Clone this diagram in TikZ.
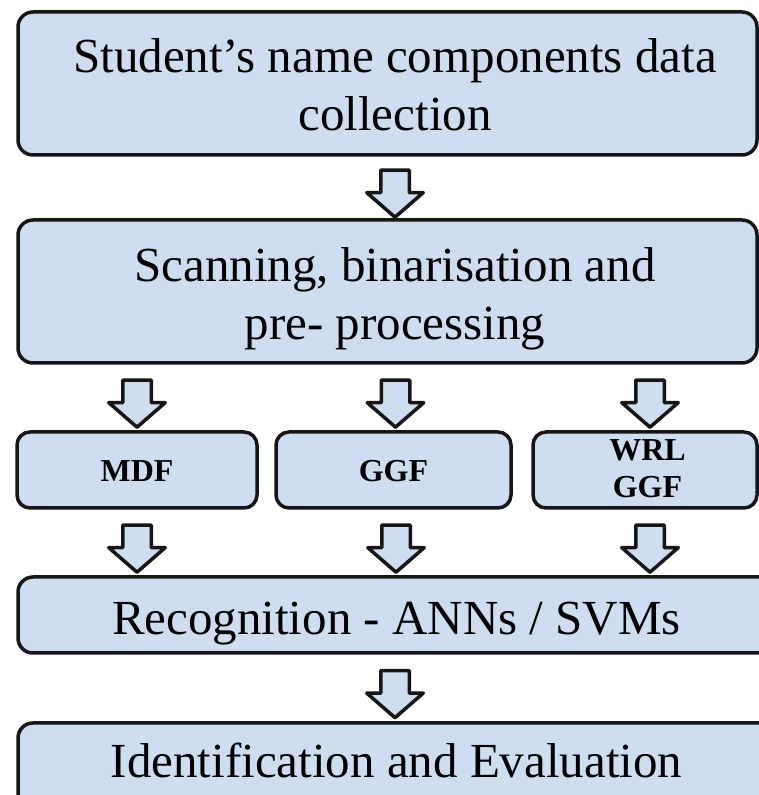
\documentclass[tikz,border=0pt]{standalone}
\usepackage{fontspec}
\setmainfont{Liberation Serif}
\usetikzlibrary{shapes.arrows,calc}
\definecolor{bfill}{RGB}{206,222,240}
\definecolor{lc}{RGB}{22,22,22}
\newcommand{\padl}{\hspace*{15pt}}
\tikzset{
  box/.style={draw=lc, fill=bfill, line width=3.5pt, rounded corners=15pt, align=center, inner sep=0pt, font=\fontsize{49}{58}\selectfont},
  sbox/.style={box, rounded corners=13pt, font=\fontsize{32}{37}\selectfont\bfseries},
  barrow/.style={draw=lc, fill=bfill, line width=3.5pt, line join=round, single arrow, rotate=-90,
    minimum height=47pt, minimum width=53pt, single arrow head extend=14pt, single arrow tip angle=98,
    inner xsep=0pt, inner ysep=12.5pt}
}
\begin{document}
\begin{tikzpicture}[x=1pt,y=1pt]
\path[use as bounding box, clip] (0,0) rectangle (759,795);
\fill[white] (0,0) rectangle (759,795);
% boxes
\node[box, minimum width=739pt, minimum height=143pt, text height=95pt, text depth=0pt] (b1) at (387.5,711.5) {\padl Student’s name components data\\\padl collection};
\node[box, minimum width=739pt, minimum height=143pt, text height=97pt, text depth=0pt] (b2) at (387.5,503.5) {\padl Scanning, binarisation and\\\padl pre- processing};
\node[sbox, minimum width=240pt, minimum height=76pt, text height=24pt, text depth=0pt] (mdf) at (137,325) {MDF};
\node[sbox, minimum width=235pt, minimum height=76pt, text height=24pt, text depth=0pt] (ggf) at (393.5,325) {GGF};
\node[sbox, minimum width=224pt, minimum height=76pt, text height=56pt, text depth=0pt] (wrl) at (645,325) {\hspace*{5pt}WRL\\\hspace*{5pt}GGF};
\node[box, minimum width=757pt, minimum height=76pt, text height=40pt, text depth=0pt] (rec) at (396.5,180) {Recognition - ANNs / SVMs};
\node[box, minimum width=757pt, minimum height=107pt, text height=30pt, text depth=27pt] (ide) at (396.5,18.5) {Identification and Evaluation};
% block arrows
\node[barrow] (a1) at ($(b1.south)!0.5!(b2.north)+(7.5,0)$) {};
\node[barrow] (a2) at ($(b2.south -| mdf.north)!0.5!(mdf.north)$) {};
\node[barrow] (a3) at ($(b2.south -| ggf.north)!0.5!(ggf.north)+(2,0)$) {};
\node[barrow] (a4) at ($(b2.south -| wrl.north)!0.5!(wrl.north)+(5,0)$) {};
\node[barrow] (a5) at ($(mdf.south)!0.5!(mdf.south |- rec.north)$) {};
\node[barrow] (a6) at ($(ggf.south)!0.5!(ggf.south |- rec.north)+(2.5,0)$) {};
\node[barrow] (a7) at ($(wrl.south)!0.5!(wrl.south |- rec.north)+(5,0)$) {};
\node[barrow] (a8) at ($(rec.south)!0.5!(ide.north)+(-1.5,0)$) {};
\end{tikzpicture}
\end{document}
